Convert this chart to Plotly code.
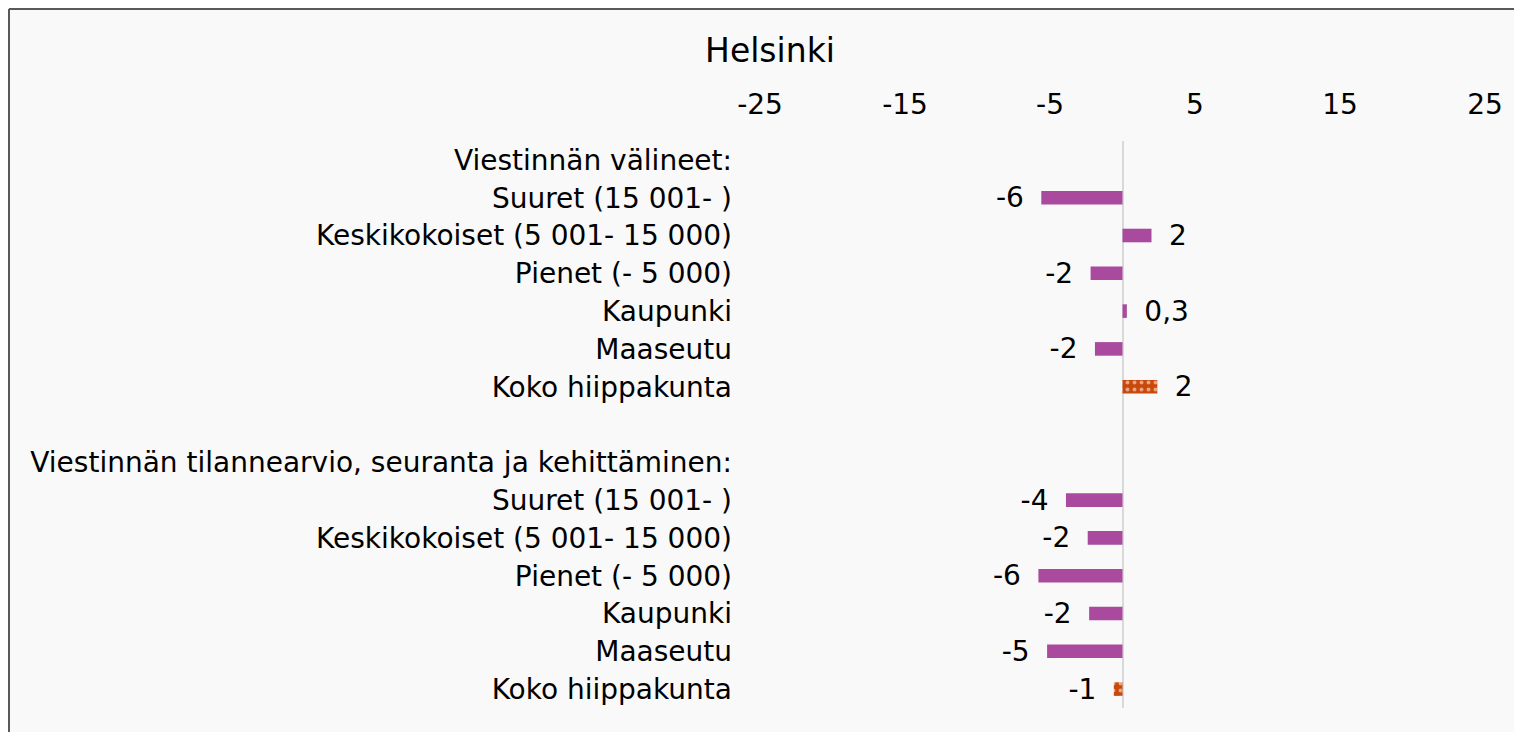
import plotly.graph_objects as go

# rows from top to bottom; None = header / spacer row without a bar
categories = [
    "Viestinnän välineet:",
    "Suuret (15 001- )",
    "Keskikokoiset (5 001- 15 000)",
    "Pienet (- 5 000)",
    "Kaupunki",
    "Maaseutu",
    "Koko hiippakunta",
    "",
    "Viestinnän tilannearvio, seuranta ja kehittäminen:",
    "Suuret (15 001- )",
    "Keskikokoiset (5 001- 15 000)",
    "Pienet (- 5 000)",
    "Kaupunki",
    "Maaseutu",
    "Koko hiippakunta",
]
values = [None, -5.6, 2.0, -2.2, 0.3, -1.9, 2.4,
          None, None, -3.9, -2.4, -5.8, -2.3, -5.2, -0.6]
labels = ["", "-6", "2", "-2", "0,3", "-2", "2",
          "", "", "-4", "-2", "-6", "-2", "-5", "-1"]
is_total = [c == "Koko hiippakunta" for c in categories]
xticks = [-25, -15, -5, 5, 15, 25]
xtick_text = ["-25", "-15", "-5", "5", "15", "25"]

PURPLE = "#a94a9e"
ORANGE = "#c9480a"
FONT = "Verdana, DejaVu Sans, sans-serif"
pad = "\u00a0\u2009"

rows = list(range(len(categories)))
texts = []
for v, t in zip(values, labels):
    if v is None:
        texts.append("")
    elif v < 0:
        texts.append(t + pad)
    else:
        texts.append(pad + t)

fig = go.Figure()
fig.add_trace(go.Bar(
    x=values, y=rows, orientation="h", width=0.36,
    marker=dict(
        color=[ORANGE if t else PURPLE for t in is_total],
        line_width=0,
        pattern=dict(shape=["." if t else "" for t in is_total],
                     fgcolor="white", size=7, solidity=0.25, fillmode="overlay"),
    ),
    text=texts, textposition="outside", cliponaxis=False, constraintext="none",
    textfont=dict(family=FONT, size=28, color="black"),
    showlegend=False,
))

# outer frame of the chart: only top and left edges are visible in the picture
W, H = 1514, 724
L, R, T, B = 752, 37, 133, 24
px_w, px_h = W - L - R, H - T - B
x_left = (1 - L) / px_w
y_top = (H - B - 1) / px_h
frame = dict(color="#595959", width=2)
fig.add_shape(type="line", xref="paper", yref="paper",
              x0=x_left, x1=(W - L + R) / px_w, y0=y_top, y1=y_top, line=frame)
fig.add_shape(type="line", xref="paper", yref="paper",
              x0=x_left, x1=x_left, y0=-(B + 20) / px_h, y1=y_top, line=frame)

fig.update_layout(
    width=W, height=H,
    margin=dict(l=L, r=R, t=T, b=B),
    paper_bgcolor="#f9f9f9", plot_bgcolor="#f9f9f9",
    font=dict(family=FONT, size=28, color="black"),
    title=dict(text="Helsinki", xref="container", x=762 / W, xanchor="center",
               yref="container", y=1 - 42 / H, yanchor="middle",
               font=dict(size=33, color="black")),
    xaxis=dict(range=[-25, 25], tickvals=xticks, ticktext=xtick_text, side="top",
               showgrid=False, zeroline=True, zerolinecolor="#d9d9d9", zerolinewidth=2,
               showline=False, ticks="", ticklabelstandoff=20,
               tickfont=dict(size=28)),
    yaxis=dict(range=[len(categories) - 0.5, -0.5], tickvals=rows, ticktext=categories,
               showgrid=False, zeroline=False, showline=False, ticks="",
               ticklabelstandoff=27, tickfont=dict(size=28)),
)

fig.write_html("out.html")
